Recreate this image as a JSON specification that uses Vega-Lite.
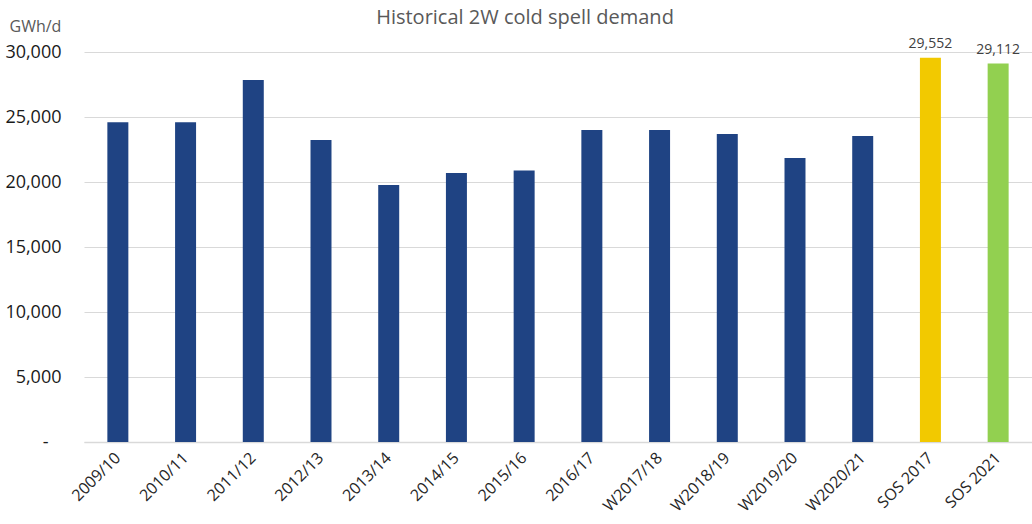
{
  "$schema": "https://vega.github.io/schema/vega-lite/v6.json",
  "autosize": {"type": "none"},
  "width": 948,
  "height": 390,
  "padding": {"left": 84, "top": 52, "right": 0, "bottom": 82},
  "background": "white",
  "title": {
    "text": "Historical 2W cold spell demand",
    "font": "Open Sans",
    "fontSize": 20,
    "fontWeight": "normal",
    "color": "#595959",
    "anchor": "middle",
    "dx": -33,
    "offset": -10
  },
  "config": {
    "view": {"stroke": null},
    "font": "Open Sans"
  },
  "data": {
    "values": [
      {"season": "2009/10", "demand": 24600, "series": "hist"},
      {"season": "2010/11", "demand": 24600, "series": "hist"},
      {"season": "2011/12", "demand": 27850, "series": "hist"},
      {"season": "2012/13", "demand": 23230, "series": "hist"},
      {"season": "2013/14", "demand": 19770, "series": "hist"},
      {"season": "2014/15", "demand": 20690, "series": "hist"},
      {"season": "2015/16", "demand": 20880, "series": "hist"},
      {"season": "2016/17", "demand": 24000, "series": "hist"},
      {"season": "W2017/18", "demand": 24000, "series": "hist"},
      {"season": "W2018/19", "demand": 23690, "series": "hist"},
      {"season": "W2019/20", "demand": 21850, "series": "hist"},
      {"season": "W2020/21", "demand": 23540, "series": "hist"},
      {"season": "SOS 2017", "demand": 29552, "series": "sos2017"},
      {"season": "SOS 2021", "demand": 29112, "series": "sos2021"}
    ]
  },
  "encoding": {
    "x": {
      "field": "season",
      "type": "nominal",
      "sort": null,
      "scale": {"paddingInner": 0.69, "paddingOuter": 0.345},
      "axis": {
        "title": null,
        "labelAngle": -45,
        "labelAlign": "right",
        "labelBaseline": "middle",
        "labelFontSize": 16,
        "labelColor": "#262626",
        "labelPadding": 13,
        "ticks": false,
        "domainColor": "#d9d9d9",
        "domainWidth": 1.5,
        "grid": false
      }
    },
    "y": {
      "field": "demand",
      "type": "quantitative",
      "scale": {"domain": [0, 30000], "nice": false},
      "axis": {
        "values": [0, 5000, 10000, 15000, 20000, 25000, 30000],
        "labelExpr": "datum.value == 0 ? '-\u2800' : format(datum.value, ',')",
        "labelFontSize": 18,
        "labelColor": "#1a1a1a",
        "labelPadding": 23,
        "domain": false,
        "ticks": false,
        "gridColor": "#d9d9d9",
        "gridWidth": 1,
        "title": "GWh/d",
        "titleAngle": 0,
        "titleAlign": "left",
        "titleBaseline": "middle",
        "titleX": -75,
        "titleY": -26,
        "titleFontSize": 16,
        "titleFontWeight": "normal",
        "titleColor": "#595959"
      }
    }
  },
  "layer": [
    {
      "mark": {"type": "bar"},
      "encoding": {
        "color": {
          "field": "series",
          "type": "nominal",
          "scale": {"domain": ["hist", "sos2017", "sos2021"], "range": ["#1F4383", "#F2C900", "#92D050"]},
          "legend": null
        }
      }
    },
    {
      "transform": [{"filter": "datum.series != 'hist'"}],
      "mark": {"type": "text", "dy": -14, "fontSize": 14, "color": "#404040"},
      "encoding": {
        "text": {"field": "demand", "type": "quantitative", "format": ","}
      }
    }
  ]
}
